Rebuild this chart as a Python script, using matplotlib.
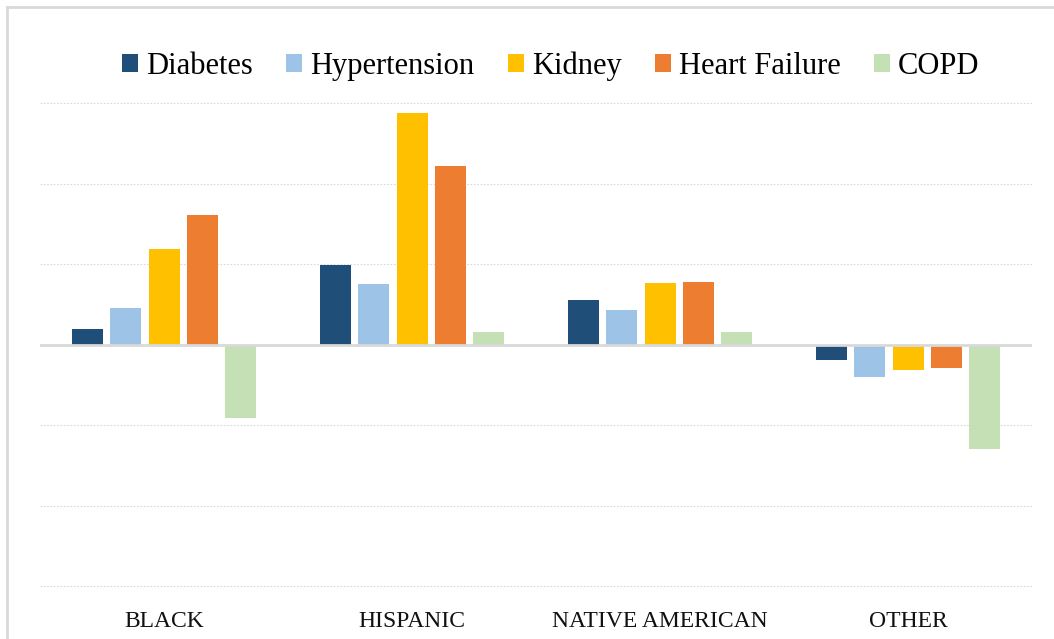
import matplotlib
matplotlib.use("Agg")
import matplotlib.pyplot as plt
from matplotlib.patches import Patch
from matplotlib.lines import Line2D
import numpy as np

categories = ["BLACK", "HISPANIC", "NATIVE AMERICAN", "OTHER"]
series_names = ["Diabetes", "Hypertension", "Kidney", "Heart Failure", "COPD"]
diabetes = [0.19, 0.99, 0.55, -0.19]
hypertension = [0.45, 0.75, 0.43, -0.40]
kidney = [1.19, 2.87, 0.76, -0.32]
heart_failure = [1.61, 2.22, 0.78, -0.29]
copd = [-0.91, 0.15, 0.16, -1.30]
colors = ["#1F4E79", "#9DC3E6", "#FFC000", "#ED7D31", "#C5E0B4"]

series = [diabetes, hypertension, kidney, heart_failure, copd]

plt.rcParams['font.family'] = ['Liberation Serif', 'DejaVu Serif']

fig = plt.figure(figsize=(10.54, 6.39), dpi=100)
ax = fig.add_axes([40/1054, 1-586/639, (1032-40)/1054, (586-103)/639])

x = np.arange(len(categories))
slot = 0.1544
width = 0.125
for i, (vals, c) in enumerate(zip(series, colors)):
    ax.bar(x + (i-2)*slot, vals, width=width, color=c, zorder=3)

ax.set_xlim(-0.5, len(categories)-0.5)
ax.set_ylim(-3, 3)
for yv in [-3, -2, -1, 1, 2, 3]:
    ax.axhline(yv, color="#d9d9d9", lw=0.8, ls=(0, (1.5, 1.5)), zorder=1, clip_on=False)
ax.axhline(0, color="#d9d9d9", lw=2, zorder=4)
for s in ax.spines.values():
    s.set_visible(False)
ax.set_yticks([])
ax.set_xticks(x)
ax.set_xticklabels(categories, fontsize=17, color="#111111")
ax.tick_params(axis='x', length=0, pad=18)

handles = [Patch(facecolor=c, edgecolor='none') for c in colors]
fig.legend(handles, series_names, loc='center', bbox_to_anchor=(551/1054, 1-66/639),
           ncol=5, frameon=False, fontsize=22, handlelength=0.52, handleheight=0.52,
           handletextpad=0.26, columnspacing=1.1, borderpad=0)

fig.add_artist(Line2D([7/1054, 7/1054], [0, 1-7/639], transform=fig.transFigure, color="#d9d9d9", lw=2))
fig.add_artist(Line2D([7/1054, 1], [1-7/639, 1-7/639], transform=fig.transFigure, color="#d9d9d9", lw=2))

fig.savefig("out.png", dpi=100)
